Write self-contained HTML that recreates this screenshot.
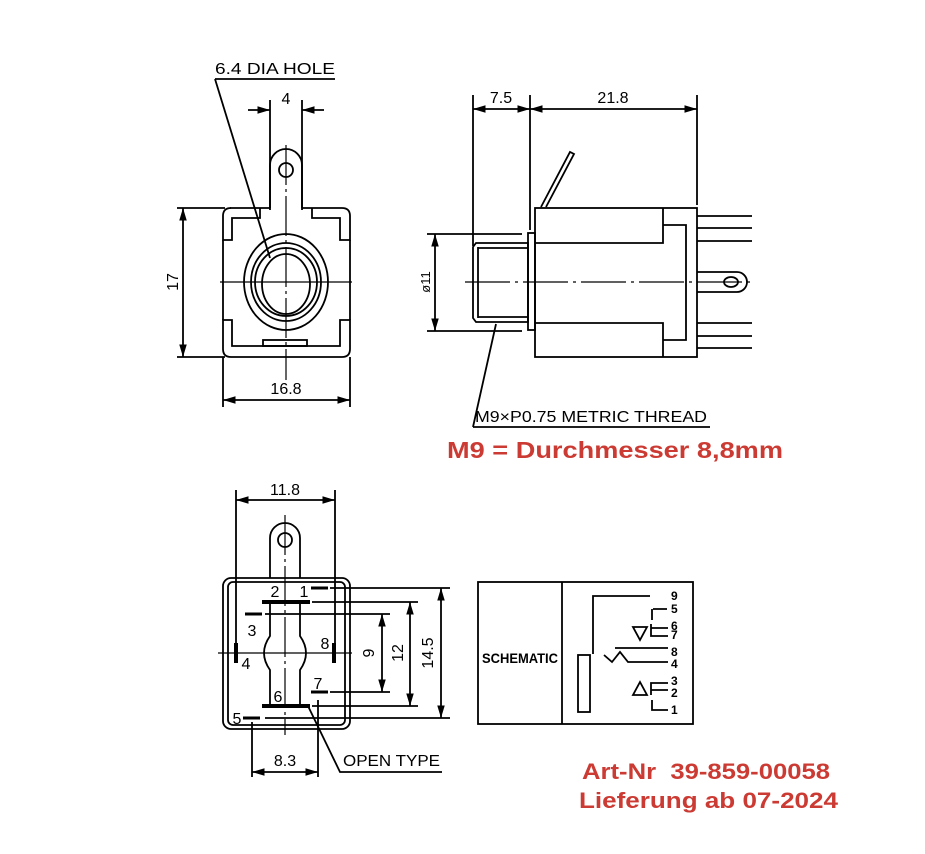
<!DOCTYPE html>
<html><head><meta charset="utf-8"><style>
html,body{margin:0;padding:0;background:#fff;}
svg{display:block;}
.t{font-family:"Liberation Sans",sans-serif;fill:#000;}
.r{font-family:"Liberation Sans",sans-serif;font-weight:bold;fill:#cc3b33;}
</style></head><body>
<svg width="925" height="854" viewBox="0 0 925 854" xmlns="http://www.w3.org/2000/svg">
<defs>
<marker id="a" viewBox="0 0 10 10" refX="10" refY="5" markerWidth="7" markerHeight="7" orient="auto-start-reverse"><path d="M0,2 L10,5 L0,8 z" fill="#000"/></marker>
</defs>
<g fill="none" stroke="#000" stroke-width="1.8">
<!-- ===== TOP LEFT VIEW ===== -->
<polyline points="215,79 335,79"/>
<line x1="215" y1="79" x2="270" y2="258"/>
<line x1="270" y1="100" x2="270" y2="210"/>
<line x1="302" y1="100" x2="302" y2="210"/>
<line x1="248" y1="110" x2="270" y2="110" marker-end="url(#a)"/>
<line x1="324" y1="110" x2="302" y2="110" marker-end="url(#a)"/>
<path d="M270,208 L270,165 A16,16 0 0 1 302,165 L302,208"/>
<circle cx="286" cy="170" r="7"/>
<path d="M230,208 L270,208 M302,208 L342,208 Q350,208 350,216 L350,240 L340,240 L340,218 L312,218 L312,208"/>
<path d="M260,208 L260,218 L232,218 L232,240 L223,240 L223,216 Q223,208 231,208"/>
<path d="M223,240 L223,320 M350,240 L350,320"/>
<path d="M223,320 L232,320 L232,346 L340,346 L340,320 L350,320 L350,349 Q350,357 342,357 L231,357 Q223,357 223,349 Z"/>
<rect x="263" y="340" width="44" height="6"/>
<ellipse cx="286" cy="282" rx="42" ry="48"/>
<ellipse cx="286" cy="282" rx="35" ry="39"/>
<ellipse cx="286" cy="282" rx="31" ry="34"/>
<ellipse cx="286" cy="284" rx="24" ry="30"/>
<line x1="220" y1="282" x2="352" y2="282" stroke-width="1.2"/>
<line x1="286" y1="145" x2="286" y2="380" stroke-width="1.2" stroke-dasharray="40,4,3,4"/>
<line x1="177" y1="208" x2="225" y2="208"/>
<line x1="177" y1="357" x2="225" y2="357"/>
<line x1="183" y1="282" x2="183" y2="208" marker-end="url(#a)"/>
<line x1="183" y1="282" x2="183" y2="357" marker-end="url(#a)"/>
<line x1="223" y1="357" x2="223" y2="407"/>
<line x1="350" y1="357" x2="350" y2="407"/>
<line x1="286" y1="400" x2="223" y2="400" marker-end="url(#a)"/>
<line x1="286" y1="400" x2="350" y2="400" marker-end="url(#a)"/>

<!-- ===== TOP RIGHT VIEW ===== -->
<line x1="473" y1="95" x2="473" y2="246"/>
<line x1="530" y1="95" x2="530" y2="230"/>
<line x1="697" y1="95" x2="697" y2="205"/>
<line x1="473" y1="109" x2="530" y2="109" marker-start="url(#a)" marker-end="url(#a)"/>
<line x1="530" y1="109" x2="697" y2="109" marker-start="url(#a)" marker-end="url(#a)"/>
<path d="M476,243 L528,243 L528,322 L476,322 L473,318 L473,247 Z"/>
<line x1="478" y1="248" x2="528" y2="248"/>
<line x1="478" y1="317" x2="528" y2="317"/>
<line x1="478" y1="247" x2="478" y2="318"/>
<rect x="528" y="233" width="7" height="97"/>
<rect x="535" y="208" width="162" height="149"/>
<path d="M535,243 L663,243 L663,208 M535,323 L663,323 L663,357"/>
<path d="M663,225 L686,225 L686,340 L663,340"/>
<path d="M541,207 L570,152 L574,154 L546,207"/>
<line x1="697" y1="216" x2="752" y2="216"/>
<line x1="697" y1="228" x2="752" y2="228"/>
<line x1="697" y1="241" x2="752" y2="241"/>
<line x1="697" y1="323" x2="752" y2="323"/>
<line x1="697" y1="336" x2="752" y2="336"/>
<line x1="697" y1="348" x2="752" y2="348"/>
<path d="M697,272 L737,272 A10,10 0 0 1 737,292 L697,292"/>
<ellipse cx="731" cy="282" rx="7" ry="5"/>
<line x1="465" y1="282" x2="755" y2="282" stroke-width="1.2" stroke-dasharray="45,5,3,5"/>
<line x1="427" y1="234" x2="522" y2="234"/>
<line x1="427" y1="331" x2="522" y2="331"/>
<line x1="435" y1="282" x2="435" y2="234" marker-end="url(#a)"/>
<line x1="435" y1="282" x2="435" y2="331" marker-end="url(#a)"/>
<line x1="496" y1="324" x2="473" y2="427"/>
<line x1="473" y1="427" x2="710" y2="427"/>

<!-- ===== BOTTOM VIEW ===== -->
<line x1="236" y1="490" x2="236" y2="660"/>
<line x1="335" y1="490" x2="335" y2="660"/>
<line x1="236" y1="500" x2="335" y2="500" marker-start="url(#a)" marker-end="url(#a)"/>
<path d="M270,578 L270,538 A15,15 0 0 1 300,538 L300,578"/>
<circle cx="285" cy="540" r="7"/>
<rect x="223" y="578" width="127" height="151" rx="8"/>
<rect x="228" y="582" width="117" height="143" rx="5"/>
<line x1="262" y1="602" x2="310" y2="602" stroke-width="4"/>
<line x1="262" y1="706" x2="310" y2="706" stroke-width="4"/>
<path d="M270,604 L270,636 Q258,653 270,670 L270,704 M300,604 L300,636 Q312,653 300,670 L300,704"/>
<line x1="311" y1="588" x2="328" y2="588" stroke-width="3"/>
<line x1="245" y1="614" x2="262" y2="614" stroke-width="3"/>
<line x1="311" y1="692" x2="328" y2="692" stroke-width="3"/>
<line x1="243" y1="718" x2="260" y2="718" stroke-width="3"/>
<line x1="236" y1="643" x2="236" y2="663" stroke-width="4"/>
<line x1="334" y1="643" x2="334" y2="663" stroke-width="4"/>
<line x1="218" y1="653" x2="352" y2="653" stroke-width="1.2"/>
<line x1="285" y1="515" x2="285" y2="735" stroke-width="1.2" stroke-dasharray="40,4,3,4"/>
<line x1="330" y1="588" x2="450" y2="588"/>
<line x1="312" y1="602" x2="418" y2="602"/>
<line x1="265" y1="614" x2="390" y2="614"/>
<line x1="330" y1="692" x2="390" y2="692"/>
<line x1="312" y1="706" x2="418" y2="706"/>
<line x1="265" y1="718" x2="450" y2="718"/>
<line x1="441" y1="588" x2="441" y2="718" marker-start="url(#a)" marker-end="url(#a)"/>
<line x1="410" y1="602" x2="410" y2="706" marker-start="url(#a)" marker-end="url(#a)"/>
<line x1="382" y1="614" x2="382" y2="692" marker-start="url(#a)" marker-end="url(#a)"/>
<line x1="252" y1="722" x2="252" y2="777"/>
<line x1="318" y1="700" x2="318" y2="777"/>
<line x1="252" y1="772" x2="318" y2="772" marker-start="url(#a)" marker-end="url(#a)"/>
<polyline points="308,706 340,772 442,772"/>

<!-- ===== SCHEMATIC ===== -->
<rect x="478" y="582" width="215" height="142"/>
<line x1="562" y1="582" x2="562" y2="724"/>
<polyline points="650,596 593,596 593,654"/>
<rect x="578" y="655" width="12" height="57"/>
<path d="M653,609 L667,609 M652,609 L652,620 M651,624 L651,636 L668,636 M651,628 L668,628"/>
<path d="M633,627 L647,627 L640,640 Z"/>
<path d="M604,655 L612,662 L620,652 L628,662 L668,662"/>
<path d="M615,648 L668,648"/>
<path d="M633,695 L647,695 L640,682 Z"/>
<path d="M651,695 L651,683 L668,683 M651,690 L668,690"/>
<path d="M652,700 L652,710 L668,710"/>
</g>

<!-- ===== TEXT ===== -->
<g class="t" font-size="16">
<text x="215" y="74" textLength="120" lengthAdjust="spacingAndGlyphs">6.4 DIA HOLE</text>
<text x="286" y="104" text-anchor="middle">4</text>
<text x="178" y="282" text-anchor="middle" transform="rotate(-90 178 282)">17</text>
<text x="286" y="394" text-anchor="middle">16.8</text>
<text x="501" y="103" text-anchor="middle">7.5</text>
<text x="613" y="103" text-anchor="middle">21.8</text>
<text x="430" y="282" text-anchor="middle" transform="rotate(-90 430 282)" font-size="13">ø11</text>
<text x="475" y="422" textLength="232" lengthAdjust="spacingAndGlyphs">M9×P0.75 METRIC THREAD</text>
<text x="285" y="495" text-anchor="middle">11.8</text>
<text x="275" y="597" text-anchor="middle">2</text>
<text x="304" y="597" text-anchor="middle">1</text>
<text x="252" y="636" text-anchor="middle">3</text>
<text x="246" y="669" text-anchor="middle">4</text>
<text x="325" y="649" text-anchor="middle">8</text>
<text x="318" y="689" text-anchor="middle">7</text>
<text x="278" y="702" text-anchor="middle">6</text>
<text x="237" y="724" text-anchor="middle">5</text>
<text x="374" y="653" text-anchor="middle" transform="rotate(-90 374 653)">9</text>
<text x="403" y="653" text-anchor="middle" transform="rotate(-90 403 653)">12</text>
<text x="433" y="653" text-anchor="middle" transform="rotate(-90 433 653)">14.5</text>
<text x="285" y="766" text-anchor="middle">8.3</text>
<text x="343" y="766" textLength="97" lengthAdjust="spacingAndGlyphs">OPEN TYPE</text>
<text x="482" y="663" font-size="14" font-weight="bold" textLength="76" lengthAdjust="spacingAndGlyphs">SCHEMATIC</text>
<g font-size="12" font-weight="bold">
<text x="671" y="600">9</text><text x="671" y="613">5</text><text x="671" y="630">6</text><text x="671" y="639">7</text>
<text x="671" y="656">8</text><text x="671" y="668">4</text><text x="671" y="685">3</text><text x="671" y="697">2</text><text x="671" y="714">1</text>
</g>
</g>
<text class="r" x="447" y="458" font-size="23" textLength="336" lengthAdjust="spacingAndGlyphs">M9 = Durchmesser 8,8mm</text>
<text class="r" x="582" y="779" font-size="22" textLength="248" lengthAdjust="spacingAndGlyphs" xml:space="preserve">Art-Nr  39-859-00058</text>
<text class="r" x="579" y="808" font-size="22" textLength="259" lengthAdjust="spacingAndGlyphs">Lieferung ab 07-2024</text>
</svg>
</body></html>
